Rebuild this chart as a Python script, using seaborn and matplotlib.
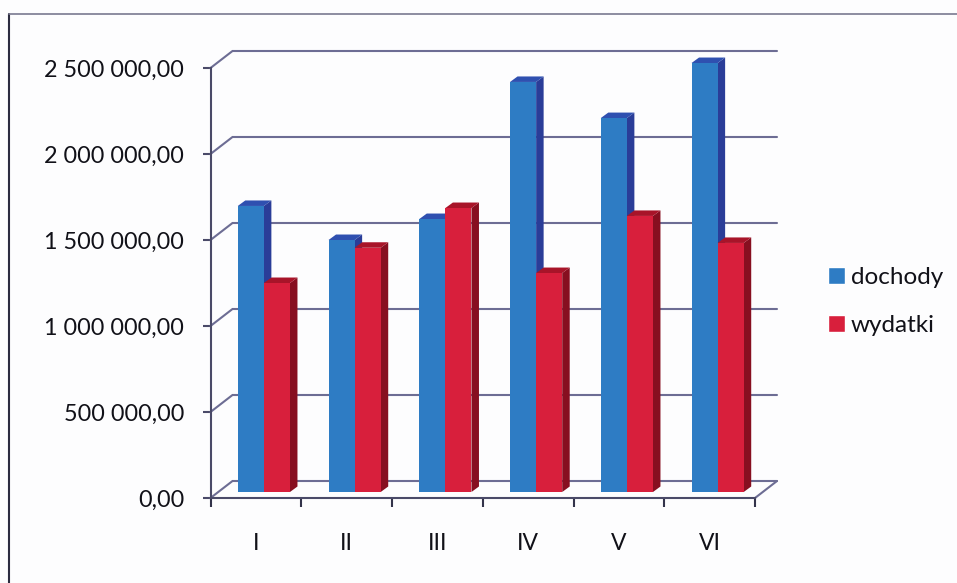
import matplotlib
matplotlib.use("Agg")
import matplotlib.pyplot as plt
from matplotlib.lines import Line2D
from matplotlib.patches import Polygon
import numpy as np
import pandas as pd
import seaborn as sns

months = ["I", "II", "III", "IV", "V", "VI"]
dochody = [1663000, 1465000, 1587000, 2384000, 2174000, 2494000]
wydatki = [1215000, 1420000, 1651000, 1273000, 1605000, 1448000]
series_names = ["dochody", "wydatki"]
y_ticks = [0, 500000, 1000000, 1500000, 2000000, 2500000]
y_labels = ["0,00", "500 000,00", "1 000 000,00", "1 500 000,00", "2 000 000,00", "2 500 000,00"]

sns.set_theme(style="white")
plt.rcParams["font.family"] = ["Lato", "DejaVu Sans"]

W, H = 957, 583
fig = plt.figure(figsize=(W / 100, H / 100), dpi=100, facecolor="#fdfdfe")
L, R, T, B = 210.5, 755.0, 68.0, 498.0
ax = fig.add_axes([L / W, 1 - B / H, (R - L) / W, (B - T) / H])
ax.patch.set_visible(False)

df = pd.DataFrame({
    "miesiac": months * 2,
    "kwota": dochody + wydatki,
    "seria": ["dochody"] * 6 + ["wydatki"] * 6,
})
colors = {"dochody": "#2e7cc4", "wydatki": "#d81f3c"}
sns.barplot(data=df, x="miesiac", y="kwota", hue="seria", hue_order=series_names,
            palette=colors, order=months, width=0.575, gap=0, saturation=1,
            errorbar=None, ax=ax, zorder=3)
ax.set_xlim(-0.5, 5.5)
ax.set_ylim(0, 2500000)
ax.set_xlabel("")
ax.set_ylabel("")

# pixel -> data conversion for the pseudo-3D depth
px_x = 6 / (R - L)
px_y = 2500000 / (B - T)
wall_dx, wall_dy = 22 * px_x, 17 * px_y
base_dx, base_dy = 8 * px_x, 6 * px_y
bar_dx, bar_dy = 7.5 * px_x, 5.5 * px_y

# back wall gridlines
grid_c = "#6d6d94"
for v in y_ticks:
    ax.plot([-0.5, -0.5 + wall_dx, 5.5 + wall_dx], [v, v + wall_dy, v + wall_dy],
            color=grid_c, lw=1.5, clip_on=False, zorder=1, solid_joinstyle="miter")
ax.plot([5.5, 5.5 + wall_dx], [0, wall_dy], color=grid_c, lw=1.5, clip_on=False, zorder=1)

# shift bars onto the floor and add side and top faces
side = {"dochody": "#2a3d98", "wydatki": "#870f20"}
top = {"dochody": "#2f50b0", "wydatki": "#a81429"}
patches = [p for p in ax.patches if p.get_height() > 0]
patches.sort(key=lambda p: p.get_x())
for i, p in enumerate(patches):
    name = "dochody" if i % 2 == 0 else "wydatki"
    x0 = p.get_x() + base_dx
    x1 = x0 + p.get_width()
    h = p.get_height()
    y0 = base_dy
    y1 = base_dy + h
    p.set_x(x0)
    p.set_y(y0)
    p.set_clip_on(False)
    p.set_linewidth(0)
    p.set_zorder(3 + i + 0.5)
    ax.add_patch(Polygon([(x1, y0), (x1 + bar_dx, y0 + bar_dy), (x1 + bar_dx, y1 + bar_dy), (x1, y1)],
                         closed=True, fc=side[name], ec="none", zorder=3 + i, clip_on=False))
    ax.add_patch(Polygon([(x0, y1), (x0 + bar_dx, y1 + bar_dy), (x1 + bar_dx, y1 + bar_dy), (x1, y1)],
                         closed=True, fc=top[name], ec="none", zorder=3 + i, clip_on=False))

# axes
sns.despine(ax=ax, top=True, right=True)
for s in ("left", "bottom"):
    ax.spines[s].set_color("#4a4a68")
    ax.spines[s].set_linewidth(1.5)
ax.set_yticks(y_ticks, y_labels)
boundaries = np.arange(-0.5, 6.0, 1.0)
ax.set_xticks(boundaries, [""] * len(boundaries))
ax.set_xticks(np.arange(6), months, minor=True)
ax.tick_params(axis="x", which="major", length=6.5, width=1.5, color="#33334a", bottom=True)
ax.tick_params(axis="x", which="minor", length=0, pad=25, labelsize=16.5, labelcolor="#111118")
ax.tick_params(axis="y", length=5.5, width=1.5, color="#4a4a68", left=True, pad=13.5,
               labelsize=16.8, labelcolor="#111118")
for t in ax.get_xticklabels(minor=True) + ax.get_yticklabels():
    t.set_family(["Lato", "DejaVu Sans"])

# legend
handles, labels = ax.get_legend_handles_labels()
leg = ax.legend(handles, labels, loc="upper left", bbox_to_anchor=(828 / W, 1 - 267 / H),
                bbox_transform=fig.transFigure, frameon=False, fontsize=17.5, borderpad=0,
                borderaxespad=0, handlelength=0.7, handleheight=0.7, handletextpad=0.25,
                labelspacing=1.09, labelcolor="#111118")

# outer frame
fig.add_artist(Line2D([9 / W, 9 / W], [0, 1 - 14 / H], color="#2c2c40", lw=1.5))
fig.add_artist(Line2D([9 / W, 1], [1 - 14 / H, 1 - 14 / H], color="#7a7a90", lw=1.2))

fig.savefig("out.png", dpi=100, facecolor=fig.get_facecolor())
